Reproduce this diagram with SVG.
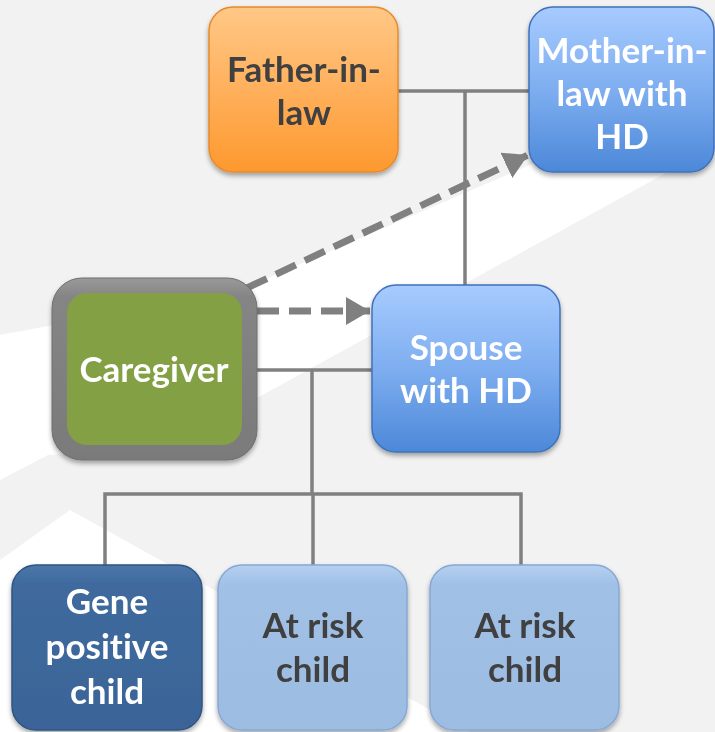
<svg xmlns="http://www.w3.org/2000/svg" width="715" height="732" viewBox="0 0 715 732">
<defs>
<linearGradient id="gOrange" x1="0" y1="0" x2="0" y2="1">
<stop offset="0" stop-color="#ffc886"/><stop offset="0.5" stop-color="#ffb05c"/><stop offset="1" stop-color="#fd992e"/>
</linearGradient>
<linearGradient id="gBlue" x1="0" y1="0" x2="0" y2="1">
<stop offset="0" stop-color="#a7cbff"/><stop offset="0.5" stop-color="#7eaef0"/><stop offset="1" stop-color="#4c88d8"/>
</linearGradient>
<linearGradient id="gDark" x1="0" y1="0" x2="0" y2="1">
<stop offset="0" stop-color="#4a76aa"/><stop offset="0.12" stop-color="#3f6a9e"/><stop offset="1" stop-color="#3a6497"/>
</linearGradient>
<linearGradient id="gLight" x1="0" y1="0" x2="0" y2="1">
<stop offset="0" stop-color="#b4d0f2"/><stop offset="0.12" stop-color="#a1c0e6"/><stop offset="1" stop-color="#9dbce2"/>
</linearGradient>
<linearGradient id="gFrame" x1="0" y1="0" x2="0" y2="1">
<stop offset="0" stop-color="#9a9a9a"/><stop offset="0.1" stop-color="#858585"/><stop offset="1" stop-color="#7a7a7a"/>
</linearGradient>
<filter id="shadow" x="-10%" y="-10%" width="120%" height="125%">
<feGaussianBlur in="SourceAlpha" stdDeviation="2.5"/>
<feOffset dx="0" dy="3" result="b"/>
<feComponentTransfer><feFuncA type="linear" slope="0.35"/></feComponentTransfer>
<feMerge><feMergeNode/><feMergeNode in="SourceGraphic"/></feMerge>
</filter>
<marker id="arrow" markerUnits="userSpaceOnUse" markerWidth="26" markerHeight="28" refX="24" refY="14" orient="auto">
<path d="M0,0 L24,14 L0,28 Z" fill="#808080"/>
</marker>
</defs>
<style>
.lbl{font-family:"Lato","Open Sans","Liberation Sans",sans-serif;font-weight:bold;font-size:35px;text-anchor:middle;font-variant-ligatures:none;font-feature-settings:"liga" 0}
.w{fill:#ffffff}
.d{fill:#404040}
.conn{stroke:#808080;stroke-width:3.5;fill:none}
.dash{stroke:#808080;stroke-width:7;fill:none;stroke-dasharray:22 10}
</style>
<rect x="0" y="0" width="715" height="732" fill="#f2f2f2"/>
<g id="background">
<polygon points="0,335 240,290 530,165 715,85 715,146 257,398 120,450 48,455 0,480" fill="#ffffff"/>
<polygon points="0,560 70,510 470,732 0,732" fill="#ffffff"/>
</g>
<g id="connectors">
<line class="conn" x1="396" y1="91" x2="530" y2="91"/>
<line class="conn" x1="465" y1="91" x2="465" y2="287"/>
<line class="conn" x1="255" y1="370" x2="374" y2="370"/>
<line class="conn" x1="312" y1="370" x2="312" y2="494"/>
<polyline class="conn" points="105,567 105,494 521,494 521,567"/>
<line class="conn" x1="313" y1="494" x2="313" y2="567"/>
<line class="dash" x1="257" y1="311" x2="370" y2="311" marker-end="url(#arrow)"/>
<line class="dash" x1="247" y1="288" x2="528" y2="155" marker-end="url(#arrow)"/>
</g>
<g id="father" filter="url(#shadow)">
<rect x="209" y="7" width="189" height="165" rx="24" fill="url(#gOrange)" stroke="#e58b2c" stroke-width="1.5"/>
<text class="lbl d" x="304" y="82">Father-in-</text>
<text class="lbl d" x="304" y="125">law</text>
</g>
<g id="mother" filter="url(#shadow)">
<rect x="529" y="7" width="185" height="165" rx="24" fill="url(#gBlue)" stroke="#3f72ba" stroke-width="1.5"/>
<text class="lbl w" x="622" y="63">Mother-in-</text>
<text class="lbl w" x="622" y="106">law with</text>
<text class="lbl w" x="622" y="149">HD</text>
</g>
<g id="caregiver" filter="url(#shadow)">
<rect x="52" y="278" width="205" height="182" rx="30" fill="url(#gFrame)" stroke="#6e6e6e" stroke-width="1"/>
<rect x="67" y="293" width="175" height="152" rx="20" fill="#83a045"/>
<text class="lbl w" x="154" y="382">Caregiver</text>
</g>
<g id="spouse" filter="url(#shadow)">
<rect x="372" y="285" width="188" height="167" rx="24" fill="url(#gBlue)" stroke="#3f72ba" stroke-width="1.5"/>
<text class="lbl w" x="466" y="360">Spouse</text>
<text class="lbl w" x="466" y="403">with HD</text>
</g>
<g id="gene" filter="url(#shadow)">
<rect x="12" y="565" width="190" height="165" rx="24" fill="url(#gDark)" stroke="#2e5583" stroke-width="1.5"/>
<text class="lbl w" x="107" y="614">Gene</text>
<text class="lbl w" x="107" y="659">positive</text>
<text class="lbl w" x="107" y="704">child</text>
</g>
<g id="atrisk1" filter="url(#shadow)">
<rect x="218" y="565" width="189" height="165" rx="24" fill="url(#gLight)" stroke="#86a8d2" stroke-width="1.5"/>
<text class="lbl d" x="313" y="638">At risk</text>
<text class="lbl d" x="313" y="682">child</text>
</g>
<g id="atrisk2" filter="url(#shadow)">
<rect x="430" y="565" width="189" height="165" rx="24" fill="url(#gLight)" stroke="#86a8d2" stroke-width="1.5"/>
<text class="lbl d" x="525" y="638">At risk</text>
<text class="lbl d" x="525" y="682">child</text>
</g>
</svg>
